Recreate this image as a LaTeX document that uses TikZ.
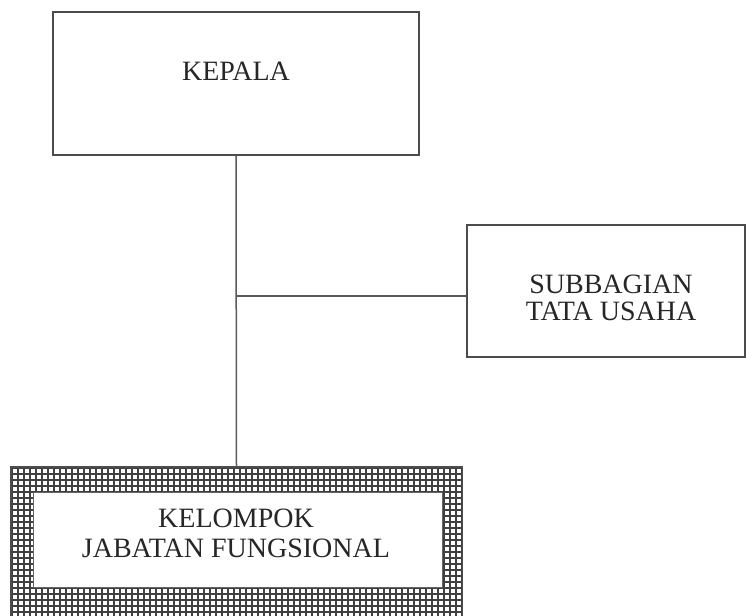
\documentclass[tikz,border=0pt]{standalone}
\usepackage{fontspec}
\setmainfont{Liberation Serif}
\usetikzlibrary{calc}
\begin{document}
\begin{tikzpicture}[x=1pt,y=1pt,
  boxline/.style={draw=black!70, line width=1.4pt},
  unitbox/.style={boxline, rectangle, inner sep=0pt},
  lbl/.style={font=\fontsize{28}{29}\selectfont, text=black!85, anchor=base, inner sep=0pt},
  conn/.style={draw=black!65, line width=1.5pt},
  gridline/.style={draw=black!75, line width=1.6pt}]
\useasboundingbox (0,0) rectangle (746,-615);
% boxes
\node[unitbox, minimum width=366pt, minimum height=143pt] (kepala) at (236,-83.5) {};
\node[lbl] (kepalatext) at (236,-81) {KEPALA};
\node[unitbox, minimum width=278pt, minimum height=132pt] (sub) at (606,-291) {};
\node[lbl] (subtexta) at (611,-293) {SUBBAGIAN};
\node[lbl] (subtextb) at (611,-320) {TATA USAHA};
% hatched outer frame
\node[rectangle, inner sep=0pt, minimum width=451pt, minimum height=150pt, fill=white] (kel) at (236.5,-542) {};
\begin{scope}
  \clip (kel.south west) rectangle (kel.north east);
  \foreach \i in {0,...,76} {
    \draw[gridline] ($(kel.south west)+(\i*6+1,0)$) -- ++(0,150);
  }
  \foreach \j in {0,...,26} {
    \draw[gridline] ($(kel.north west)+(0,-\j*6-1)$) -- ++(451,0);
  }
\end{scope}
\draw[boxline] (kel.south west) rectangle (kel.north east);
\node[unitbox, fill=white, draw=black!60, line width=1pt, minimum width=409pt, minimum height=95pt] (kelin) at (237.5,-539.5) {};
\node[lbl] (keltexta) at (236,-527) {KELOMPOK};
\node[lbl] (keltextb) at (236,-557) {JABATAN FUNGSIONAL};
% connectors
\coordinate (junc) at (236,-296);
\draw[conn] (kepala.south) -- (kel.north);
\draw[conn] (junc) -- (junc -| sub.west);
\end{tikzpicture}
\end{document}
